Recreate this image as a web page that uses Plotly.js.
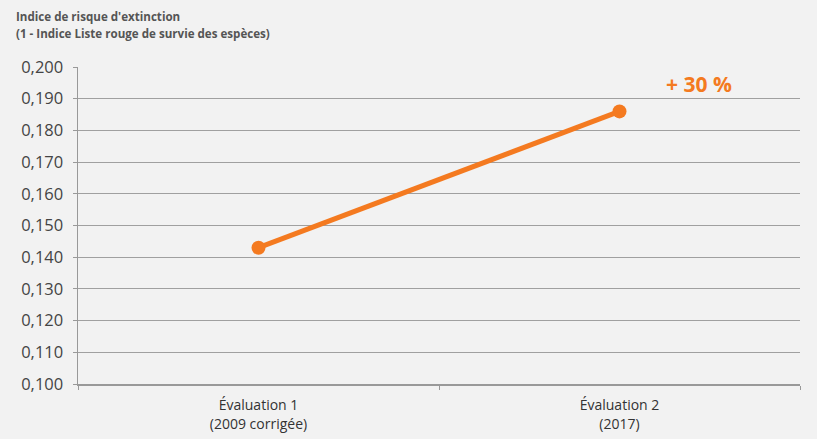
<!DOCTYPE html>
<html>
<head>
<meta charset="utf-8">
<script src="https://cdn.plot.ly/plotly-3.0.1.min.js"></script>
<style>html,body{margin:0;padding:0;background:#f2f2f2;}#chart{width:817px;height:439px;}</style>
</head>
<body>
<div id="chart"></div>
<script>
const categories = ["Évaluation 1<br>(2009 corrigée)", "Évaluation 2<br>(2017)"];
const riskIndex = [0.143, 0.186];
const changeLabel = "+ 30 %";
const titleLines = ["Indice de risque d'extinction", "(1 - Indice Liste rouge de survie des espèces)"];
const yTicks = [0.100, 0.110, 0.120, 0.130, 0.140, 0.150, 0.160, 0.170, 0.180, 0.190, 0.200];

const orange = "#f47a20";
const trace = {
  x: categories,
  y: riskIndex,
  type: "scatter",
  mode: "lines+markers",
  line: {color: orange, width: 5},
  marker: {color: orange, size: 14},
  hoverinfo: "skip"
};

const layout = {
  width: 817, height: 439,
  paper_bgcolor: "#f2f2f2",
  plot_bgcolor: "#f2f2f2",
  separators: ", ",
  margin: {l: 78, r: 17, t: 67, b: 55},
  font: {family: "Open Sans, sans-serif", color: "#333"},
  showlegend: false,
  xaxis: {
    type: "category",
    range: [-0.5, 1.5],
    showgrid: false,
    showline: true, linecolor: "#999", linewidth: 1.5,
    ticks: "outside", tickson: "boundaries", ticklen: 4, tickcolor: "#999",
    tickfont: {size: 14, color: "#333"},
    ticklabelstandoff: 8,
    zeroline: false
  },
  yaxis: {
    range: [0.100, 0.200],
    tickvals: yTicks,
    tickformat: ".3f",
    showgrid: true, gridcolor: "#a0a0a0", gridwidth: 1,
    showline: true, linecolor: "#999", linewidth: 1.5,
    ticks: "outside", ticklen: 4, tickcolor: "#999",
    tickfont: {size: 16.5, color: "#444"},
    ticklabelstandoff: 6,
    zeroline: false
  },
  annotations: [
    {xref: "paper", yref: "paper", x: -0.0886, y: 1.158, xanchor: "left", yanchor: "middle",
     text: "<b>" + titleLines[0] + "</b>", showarrow: false, font: {size: 11.6, color: "#555"}},
    {xref: "paper", yref: "paper", x: -0.0886, y: 1.107, xanchor: "left", yanchor: "middle",
     text: "<b>" + titleLines[1] + "</b>", showarrow: false, font: {size: 11.6, color: "#555"}},
    {xref: "x", yref: "y", x: categories[1], y: 0.1945, xshift: 79, xanchor: "center", yanchor: "middle",
     text: "<b>" + changeLabel + "</b>", showarrow: false, font: {size: 21, color: orange}}
  ]
};

Plotly.newPlot("chart", [trace], layout, {displayModeBar: false, staticPlot: true});
</script>
</body>
</html>
